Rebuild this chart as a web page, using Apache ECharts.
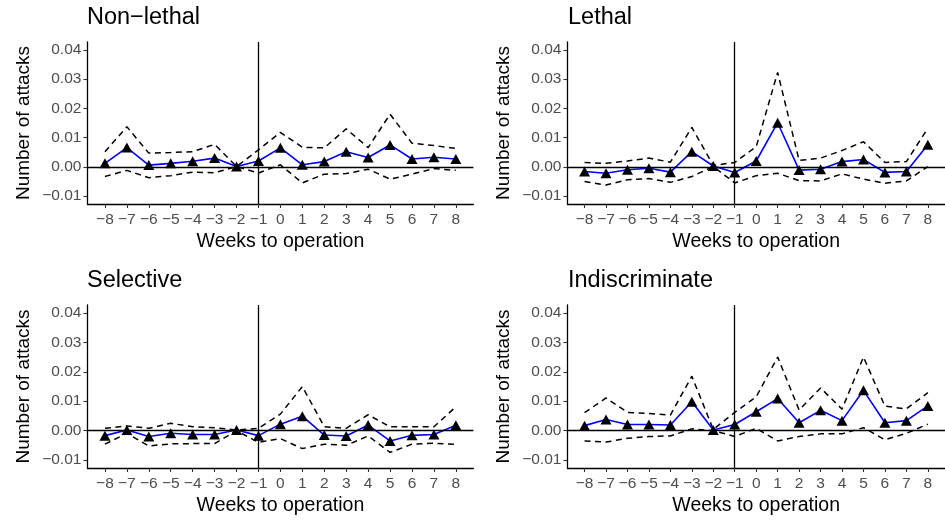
<!DOCTYPE html>
<html>
<head>
<meta charset="utf-8">
<script src="https://cdn.jsdelivr.net/npm/echarts@6/dist/echarts.min.js"></script>
<style>
  html, body { margin: 0; padding: 0; background: #fff; }
  #chart { width: 945px; height: 520px; }
</style>
</head>
<body>
<div id="chart"></div>
<script>
// Weeks relative to the operation
const weeks = [-8, -7, -6, -5, -4, -3, -2, -1, 0, 1, 2, 3, 4, 5, 6, 7, 8];
const yTicks = [-0.01, 0.00, 0.01, 0.02, 0.03, 0.04];

// Non-lethal attacks: estimate and 95% interval
const nonLethalEst   = [0.0012, 0.0066, 0.0006, 0.0012, 0.0019, 0.0030, 0.0001, 0.0020, 0.0065, 0.0007, 0.0018, 0.0052, 0.0032, 0.0075, 0.0027, 0.0033, 0.0027];
const nonLethalUpper = [0.0052, 0.0137, 0.0047, 0.0049, 0.0052, 0.0077, 0.0001, 0.0058, 0.0118, 0.0067, 0.0065, 0.0130, 0.0066, 0.0180, 0.0081, 0.0073, 0.0063];
const nonLethalLower = [-0.0033, -0.0012, -0.0037, -0.0030, -0.0018, -0.0020, 0.0001, -0.0021, 0.0007, -0.0055, -0.0025, -0.0023, -0.0008, -0.0042, -0.0025, -0.0006, -0.0012];

// Lethal attacks
const lethalEst   = [-0.0016, -0.0022, -0.0010, -0.0005, -0.0018, 0.0052, 0.0003, -0.0019, 0.0020, 0.0151, -0.0011, -0.0008, 0.0018, 0.0025, -0.0019, -0.0016, 0.0076];
const lethalUpper = [0.0015, 0.0012, 0.0020, 0.0030, 0.0016, 0.0135, 0.0005, 0.0015, 0.0069, 0.0323, 0.0022, 0.0030, 0.0056, 0.0086, 0.0015, 0.0018, 0.0132];
const lethalLower = [-0.0050, -0.0062, -0.0044, -0.0040, -0.0053, -0.0033, 0.0001, -0.0055, -0.0030, -0.0022, -0.0047, -0.0048, -0.0024, -0.0042, -0.0056, -0.0048, 0.0001];

// Selective attacks
const selectiveEst   = [-0.0017, 0.0002, -0.0020, -0.0009, -0.0013, -0.0013, 0.0002, -0.0017, 0.0022, 0.0049, -0.0015, -0.0018, 0.0019, -0.0035, -0.0016, -0.0013, 0.0018];
const selectiveUpper = [0.0008, 0.0016, 0.0008, 0.0025, 0.0013, 0.0010, 0.0002, 0.0008, 0.0056, 0.0150, 0.0013, 0.0008, 0.0054, 0.0013, 0.0013, 0.0013, 0.0081];
const selectiveLower = [-0.0046, -0.0009, -0.0052, -0.0045, -0.0044, -0.0044, 0.0000, -0.0040, -0.0027, -0.0061, -0.0046, -0.0050, -0.0018, -0.0074, -0.0046, -0.0043, -0.0047];

// Indiscriminate attacks
const indiscEst   = [0.0017, 0.0038, 0.0021, 0.0021, 0.0019, 0.0098, 0.0002, 0.0021, 0.0064, 0.0109, 0.0027, 0.0069, 0.0034, 0.0137, 0.0027, 0.0034, 0.0084];
const indiscUpper = [0.0061, 0.0111, 0.0062, 0.0058, 0.0053, 0.0185, 0.0004, 0.0062, 0.0115, 0.0250, 0.0070, 0.0145, 0.0073, 0.0250, 0.0083, 0.0074, 0.0129];
const indiscLower = [-0.0035, -0.0039, -0.0026, -0.0020, -0.0018, 0.0006, 0.0000, -0.0020, 0.0008, -0.0035, -0.0020, -0.0011, -0.0011, 0.0010, -0.0031, -0.0009, 0.0022];

const panelTitles = ['Non\u2212lethal', 'Lethal', 'Selective', 'Indiscriminate'];
const panels = [
  { est: nonLethalEst, upper: nonLethalUpper, lower: nonLethalLower },
  { est: lethalEst, upper: lethalUpper, lower: lethalLower },
  { est: selectiveEst, upper: selectiveUpper, lower: selectiveLower },
  { est: indiscEst, upper: indiscUpper, lower: indiscLower }
];

const FONT = 'Liberation Sans, Arial, Helvetica, sans-serif';
const gridBoxes = [
  { left: 87.4, top: 42, width: 386, height: 162 },
  { left: 567.4, top: 42, width: 386, height: 162 },
  { left: 87.4, top: 305, width: 386, height: 163 },
  { left: 567.4, top: 305, width: 386, height: 163 }
];
const titlePos = [
  { left: 87, top: 6 },
  { left: 568, top: 6 },
  { left: 87, top: 269 },
  { left: 568, top: 269 }
];

const minus = s => String(s).replace('-', '\u2212');
const pairs = arr => weeks.map((w, i) => [w, arr[i]]);

const option = {
  animation: false,
  backgroundColor: '#ffffff',
  title: panelTitles.map((t, i) => ({
    text: t,
    left: titlePos[i].left,
    top: titlePos[i].top,
    padding: 0,
    textStyle: { fontFamily: FONT, fontSize: 23.5, fontWeight: 'normal', color: '#000' }
  })),
  grid: gridBoxes.map(g => ({ left: g.left, top: g.top, width: g.width, height: g.height, containLabel: false })),
  xAxis: gridBoxes.map((g, i) => ({
    type: 'value',
    gridIndex: i,
    min: -8.8,
    max: 8.8,
    name: 'Weeks to operation',
    nameLocation: 'middle',
    nameGap: 28,
    nameTextStyle: { fontFamily: FONT, fontSize: 19.5, color: '#000' },
    axisLine: { show: true, onZero: false, lineStyle: { color: '#000', width: 1.3 } },
    axisTick: { show: true, customValues: weeks, length: 4, lineStyle: { color: '#333', width: 1.1 } },
    axisLabel: { customValues: weeks, margin: 8, fontFamily: FONT, fontSize: 15.5, color: '#4d4d4d', formatter: v => minus(v) },
    splitLine: { show: false }
  })),
  yAxis: gridBoxes.map((g, i) => ({
    type: 'value',
    gridIndex: i,
    min: -0.0127,
    max: 0.0427,
    name: 'Number of attacks',
    nameLocation: 'middle',
    nameRotate: 90,
    nameGap: 54,
    nameTextStyle: { fontFamily: FONT, fontSize: 19, color: '#000' },
    axisLine: { show: true, onZero: false, lineStyle: { color: '#000', width: 1.3 } },
    axisTick: { show: true, customValues: yTicks, length: 4, lineStyle: { color: '#333', width: 1.1 } },
    axisLabel: { customValues: yTicks, margin: 6, fontFamily: FONT, fontSize: 15.5, color: '#4d4d4d', formatter: v => minus(v.toFixed(2)) },
    splitLine: { show: false }
  })),
  series: []
};

panels.forEach((p, i) => {
  const dashed = { color: '#000', width: 1.5, type: [6, 4.5] };
  option.series.push({
    type: 'line', xAxisIndex: i, yAxisIndex: i, data: pairs(p.upper),
    symbol: 'none', lineStyle: dashed, silent: true, z: 2
  });
  option.series.push({
    type: 'line', xAxisIndex: i, yAxisIndex: i, data: pairs(p.lower),
    symbol: 'none', lineStyle: dashed, silent: true, z: 2
  });
  option.series.push({
    type: 'line', xAxisIndex: i, yAxisIndex: i, data: pairs(p.est),
    symbol: 'triangle', symbolSize: [11, 10],
    itemStyle: { color: '#000' },
    lineStyle: { color: '#0000ff', width: 1.6 },
    silent: true, z: 3,
    markLine: {
      silent: true, symbol: 'none', label: { show: false },
      lineStyle: { color: '#000', width: 1.3, type: 'solid' },
      data: [{ xAxis: -1 }, { yAxis: 0 }]
    }
  });
});

const chart = echarts.init(document.getElementById('chart'), null, { renderer: 'canvas' });
chart.setOption(option);
</script>
</body>
</html>
